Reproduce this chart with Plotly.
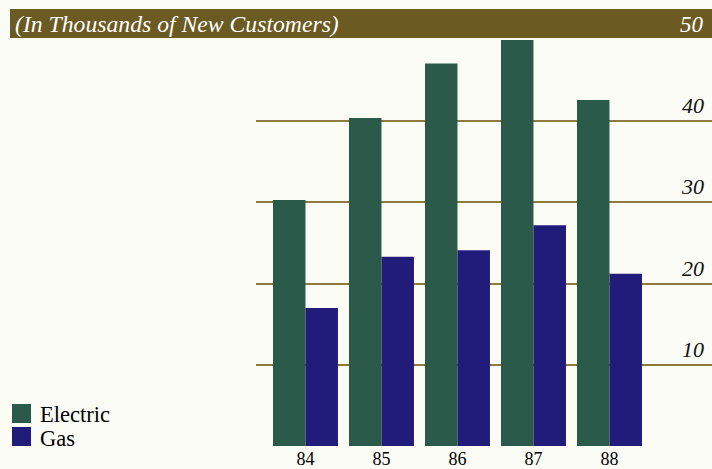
import plotly.graph_objects as go

years = ["84", "85", "86", "87", "88"]
electric = [30.3, 40.4, 47.1, 50.0, 42.6]
gas = [17.0, 23.3, 24.1, 27.2, 21.2]
grid_vals = [10, 20, 30, 40]
title_text = "(In Thousands of New Customers)"

W, H = 712, 469
L, R, T, B = 256, 0, 40, 23
BG = "#fcfcf6"
BAND = "#6b5a22"
GRID = "#8c7a3e"
C_E = "#2c5a4a"
C_G = "#211c7a"
SERIF = "Liberation Serif, Times New Roman, serif"

fig = go.Figure()
fig.add_trace(go.Bar(x=years, y=electric, name="Electric", marker=dict(color=C_E, line_width=0)))
fig.add_trace(go.Bar(x=years, y=gas, name="Gas", marker=dict(color=C_G, line_width=0)))


def px_x(x):
    return (x - L) / (W - L - R)


def px_y(y):
    return (H - B - y) / (H - T - B)


shapes = []
# header band
shapes.append(dict(type="rect", xref="paper", yref="paper",
                   x0=px_x(10), x1=1.0, y0=px_y(38), y1=px_y(9),
                   fillcolor=BAND, line_width=0, layer="above"))
# legend squares
shapes.append(dict(type="rect", xref="paper", yref="paper",
                   x0=px_x(12), x1=px_x(31), y0=px_y(423), y1=px_y(404),
                   fillcolor=C_E, line_width=0))
shapes.append(dict(type="rect", xref="paper", yref="paper",
                   x0=px_x(12), x1=px_x(31), y0=px_y(446), y1=px_y(427),
                   fillcolor=C_G, line_width=0))

annotations = [
    dict(text=title_text, xref="paper", yref="paper", x=px_x(13), y=px_y(24),
         xanchor="left", yanchor="middle", showarrow=False,
         font=dict(family=SERIF, size=23.7, color="white", style="italic")),
    dict(text="50", xref="paper", yref="paper", x=px_x(706), y=px_y(24),
         xanchor="right", yanchor="middle", showarrow=False,
         font=dict(family=SERIF, size=23, color="white", style="italic")),
    dict(text="Electric", xref="paper", yref="paper", x=px_x(38), y=px_y(414),
         xanchor="left", yanchor="middle", showarrow=False,
         font=dict(family=SERIF, size=22.5, color="black")),
    dict(text="Gas", xref="paper", yref="paper", x=px_x(38), y=px_y(438),
         xanchor="left", yanchor="middle", showarrow=False,
         font=dict(family=SERIF, size=22.5, color="black")),
]
for g in grid_vals:
    annotations.append(dict(text=str(g), xref="paper", yref="y", x=px_x(706), y=g,
                            xanchor="right", yanchor="bottom", yshift=1, showarrow=False,
                            font=dict(family=SERIF, size=22, color="#111111", style="italic")))

fig.update_layout(
    template="none",
    width=W, height=H,
    margin=dict(l=L, r=R, t=T, b=B, pad=0),
    paper_bgcolor=BG, plot_bgcolor=BG,
    barmode="group", bargap=0.145, bargroupgap=0,
    showlegend=False,
    shapes=shapes, annotations=annotations,
    xaxis=dict(type="category", range=[-0.651, 5.349], showgrid=False, zeroline=False,
               showline=False, ticks="", ticklabelstandoff=0, automargin=False,
               tickfont=dict(family=SERIF, size=18, color="black")),
    yaxis=dict(range=[0, 50], tickvals=grid_vals, showticklabels=False, showgrid=True,
               gridcolor=GRID, gridwidth=1.6, zeroline=False, showline=False,
               automargin=False),
)
fig.write_html("out.html", config={"displayModeBar": False},
               post_script="document.body.style.margin='0';document.body.style.background='%s';" % BG)
